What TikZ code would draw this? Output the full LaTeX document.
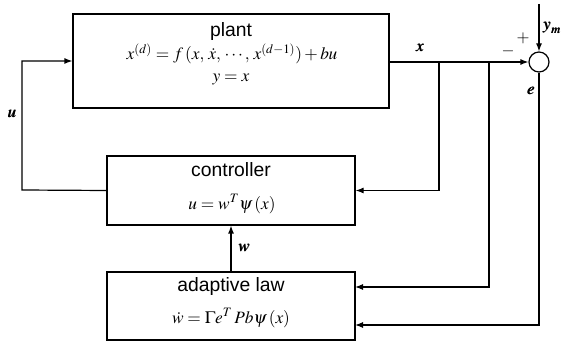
\documentclass[tikz,border=0pt]{standalone}
\usepackage{mathptmx}
\usepackage{bm}
\usepackage[no-math]{fontspec}
\setmainfont{Liberation Sans}
\usetikzlibrary{arrows.meta,calc}
\begin{document}
\begin{tikzpicture}[x=0.75pt,y=-0.75pt,
  blk/.style={draw,line width=0.9pt,inner sep=0pt,minimum width=#1},
  conn/.style={line width=0.9pt},
  arr/.style={conn,-{Latex[length=6pt,width=4.5pt]}},
  word/.style={inner sep=0pt,font=\fontsize{14.5}{16}\selectfont},
  eqn/.style={inner sep=0pt,font=\fontsize{13}{15}\selectfont},
  lbl/.style={inner sep=0pt,font=\fontsize{12.5}{14}\selectfont}]
\useasboundingbox (0,0) rectangle (561,342);
% blocks
\node[blk=237pt,minimum height=70.5pt] (plant) at (231,61) {};
\node[blk=186pt,minimum height=51.75pt] (ctrl) at (231,190.5) {};
\node[blk=186pt,minimum height=51pt] (adapt) at (231,306) {};
\node[draw,circle,line width=0.9pt,minimum size=15pt,inner sep=0pt] (sum) at (539,62) {};
% texts
\node[word] (tplant) at (231,32) {plant};
\node[eqn] (eplant) at (232,54) {$x^{(d)}=f\,(x,\,\dot{x},\,\cdots,\,x^{(d-1)})+bu$};
\node[eqn] (yplant) at (231,80) {$y=x$};
\node[word] (tctrl) at (231,170) {controller};
\node[eqn] (ectrl) at (232,204) {$u=w^{T}\psi\,(x)$};
\node[word] (tadapt) at (231,287) {adaptive law};
\node[eqn] (eadapt) at (231,318) {$\dot{w}=\Gamma e^{T}\,Pb\psi\,(x)$};
% coordinates
\coordinate (b1) at (439,62);
\coordinate (b2) at (489,62);
\coordinate (ym) at (539,4);
\coordinate (lft) at (22,190);
\coordinate (ain1) at (355,287);
\coordinate (ain2) at (355,325);
% connectors
\draw[arr] (plant.east |- sum.west) -- (sum.west);
\draw[arr] (ym) -- (sum.north);
\draw[arr] (b1) |- (ctrl.east);
\draw[arr] (b2) |- (ain1);
\draw[arr] (sum.south) |- (ain2);
\draw[arr] (ctrl.west) -- (lft) |- (plant.west);
\draw[arr] (adapt.north) -- (ctrl.south);
% labels
\node[lbl] (lx) at (420,48) {$\bm{x}$};
\node[lbl] (lu) at (12,114) {$\bm{u}$};
\node[lbl] (lw) at (244,248) {$\bm{w}$};
\node[lbl] (le) at (531,91) {$\bm{e}$};
\node[lbl] (lym) at (552,28) {$\bm{y_m}$};
\node[lbl] (lp) at (523,38) {$+$};
\node[lbl] (lm) at (508,51) {$-$};
\end{tikzpicture}
\end{document}
